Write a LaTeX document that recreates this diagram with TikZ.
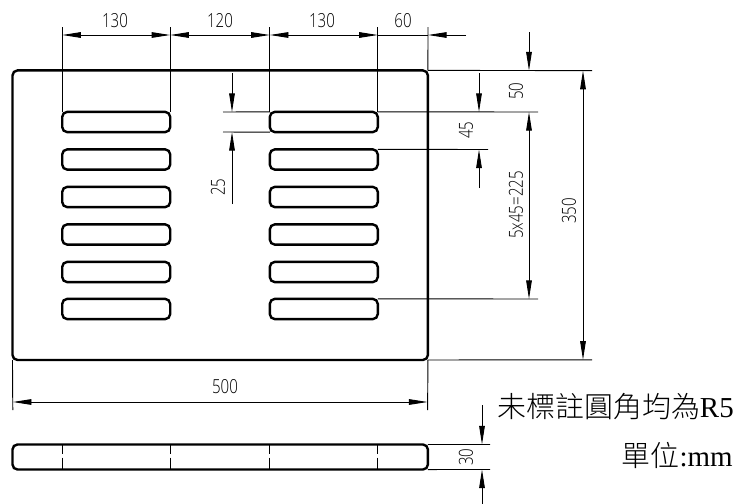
\documentclass[tikz,border=0pt]{standalone}
\usepackage{fontspec}
\setmainfont{Liberation Serif}
\newfontfamily\dimfont[FakeStretch=0.78]{Open Sans Light}
\newfontfamily\cjkfont{Noto Sans CJK TC Light}
\usetikzlibrary{arrows.meta}

\begin{document}
\begin{tikzpicture}[x=0.75pt,y=-0.75pt]
		\tikzstyle{outline}=[draw,line width=1.8pt,rounded corners=3.8pt,inner sep=0,outer sep=0,rectangle]
		\tikzstyle{slot}=[outline,minimum width=81pt,minimum height=15.2pt]
		\tikzstyle{thin}=[line width=0.7pt]
		\tikzstyle{dim}=[thin,{Triangle[length=14pt,width=4.2pt]}-{Triangle[length=14pt,width=4.2pt]}]
		\tikzstyle{tip}=[thin,-{Triangle[length=14pt,width=4.2pt]}]
		\tikzstyle{dimtext}=[font=\dimfont\fontsize{14.5}{14.5}\selectfont,inner sep=0]
		\tikzstyle{vdimtext}=[dimtext,rotate=90]
		\tikzstyle{note}=[font=\fontsize{21.7}{22}\selectfont,inner sep=0]
		\useasboundingbox (0,0) rectangle (744,504);
		
		\node[outline,minimum width=311.6pt,minimum height=217.2pt](plate) at (220.2,215.2) {};
		\node[outline,minimum width=311.6pt,minimum height=18.8pt](side) at (220.2,457) {};
		
		\foreach \y/\ypos in {1/122,2/159.5,3/197,4/234.5,5/272,6/309}
		\node[slot](sl-\y) at (116.2,\ypos) {};
		\foreach \y/\ypos in {1/122,2/159.5,3/197,4/234.5,5/272,6/309}
		\node[slot](sr-\y) at (323.8,\ypos) {};
		
		% hidden edges of the slots in the side view
		\foreach \x in {62.2,170.2,269.8,377.8}
		\draw[line width=1pt,dash pattern=on 6.5pt off 3pt on 10pt off 40pt] (\x,445) -- (\x,469);
		
		% top row
		\coordinate (a-1) at (62.2,35);
		\coordinate (a-2) at (170.2,35);
		\coordinate (a-3) at (269.8,35);
		\coordinate (a-4) at (377.8,35);
		\coordinate (a-5) at (428,35);
		\coordinate (a-6) at (466,35);
		\draw[thin] (62.2,27) -- (sl-1.north west);
		\draw[thin] (170.2,27) -- (sl-1.north east);
		\draw[thin] (269.8,27) -- (sr-1.north west);
		\draw[thin] (377.8,27) -- (sr-1.north east);
		\draw[thin] (428,27) -- (plate.north east);
		\path[dim] (a-1) edge (a-2)
		(a-2) edge (a-3)
		(a-3) edge (a-4);
		\draw[thin] (a-4) -- (a-5);
		\draw[tip] (a-6) -- (a-5);
		\node[dimtext](d130a) at (115,20.5) {130};
		\node[dimtext](d120) at (220,20.5) {120};
		\node[dimtext](d130b) at (322,20.5) {130};
		\node[dimtext](d60) at (403,20.5) {60};
		
		% slot height
		\draw[thin] (sr-1.north west) -- (223,112);
		\draw[thin] (sr-1.south west) -- (223,132);
		\coordinate (h-a) at (232,112);
		\coordinate (h-b) at (232,132);
		\draw[tip] (232,73) -- (h-a);
		\draw[tip] (232,204) -- (h-b);
		\node[vdimtext](d25) at (218,187) {25};
		
		% pitch
		\draw[thin] (sr-1.north east) -- (538,112);
		\draw[thin] (sr-2.north east) -- (488,149.5);
		\draw[thin] (sr-6.north east) -- (538,299);
		\coordinate (p-a) at (479,112);
		\coordinate (p-b) at (479,149.5);
		\draw[tip] (479,73) -- (p-a);
		\draw[tip] (479,188) -- (p-b);
		\node[vdimtext](d45) at (466,130) {45};
		
		% right side
		\draw[thin] (plate.north east) -- (592,70.6);
		\draw[thin] (plate.south east) -- (592,359.8);
		\coordinate (r-a) at (529,70.6);
		\coordinate (r-b) at (529,112);
		\coordinate (r-c) at (529,299);
		\coordinate (o-a) at (583,70.6);
		\coordinate (o-b) at (583,359.8);
		\draw[tip] (529,32) -- (r-a);
		\draw[dim] (r-b) -- (r-c);
		\draw[dim] (o-a) -- (o-b);
		\node[vdimtext](d50) at (516,91) {50};
		\node[vdimtext](d225) at (516,205) {5x45=225};
		\node[vdimtext](d350) at (569,211) {350};
		
		% bottom
		\draw[thin] (plate.south west) -- (12.8,410);
		\draw[thin] (plate.south east) -- (427.6,410);
		\coordinate (w-a) at (12.8,402);
		\coordinate (w-b) at (427.6,402);
		\draw[dim] (w-a) -- (w-b);
		\node[dimtext](d500) at (225,387) {500};
		
		% thickness
		\draw[thin] (side.north east) -- (490,444.5);
		\draw[thin] (side.south east) -- (490,469.5);
		\coordinate (s-a) at (482,444.5);
		\coordinate (s-b) at (482,469.5);
		\draw[tip] (482,405) -- (s-a);
		\draw[tip] (482,504) -- (s-b);
		\node[vdimtext](d30) at (466,457) {30};
		
		\node[note,anchor=east](n-r) at (734,407) {{\cjkfont 未標註圓角均為}R5};
		\node[note,anchor=east](n-u) at (733,455) {{\cjkfont 單位}:mm};
		\end{tikzpicture}
\end{document}
